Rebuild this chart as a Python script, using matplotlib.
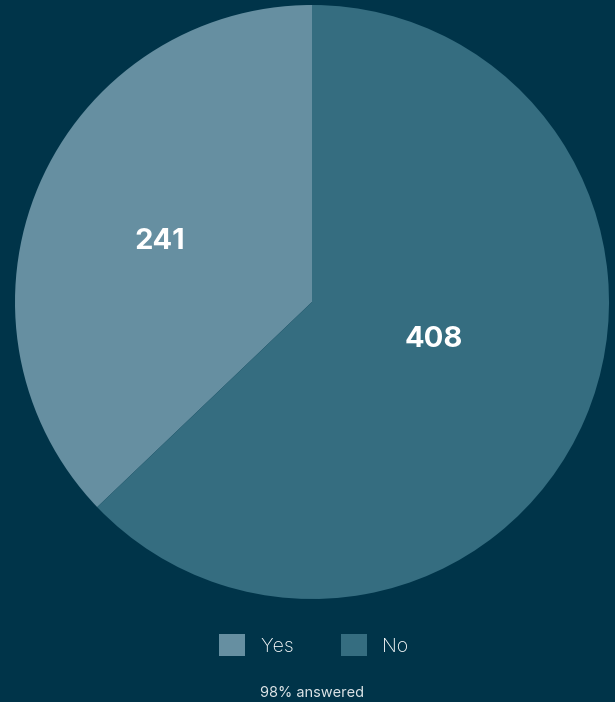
import numpy as np
import matplotlib.pyplot as plt

labels = ['Yes', 'No']
counts = [241, 408]
colors = ['#668fa1', '#356d80']
bg = '#003449'
footer = '98% answered'

plt.rcParams['font.family'] = ['Inter', 'DejaVu Sans']

fig = plt.figure(figsize=(6.15, 7.02), dpi=100, facecolor=bg)
ax = fig.add_axes([15 / 615, 103 / 702, 594 / 615, 594 / 702])
ax.set_facecolor(bg)

total = sum(counts)
wedges, texts, autotexts = ax.pie(
    counts, colors=colors, startangle=90, counterclock=True,
    radius=1.0, autopct=lambda p: '%d' % round(p * total / 100),
    pctdistance=0.55, wedgeprops={'linewidth': 0},
    textprops={'color': 'white', 'fontsize': 21, 'fontweight': 'bold'})

# nudge value labels toward where the original places them
label_dist = [0.55, 0.43]
label_shift = [1.5, 6.0]  # degrees
for w, t, d, s in zip(wedges, autotexts, label_dist, label_shift):
    ang = np.deg2rad((w.theta1 + w.theta2) / 2 + s)
    t.set_position((d * np.cos(ang), d * np.sin(ang)))

ax.set_xlim(-1, 1)
ax.set_ylim(-1, 1)
ax.set_aspect('equal')
ax.axis('off')

leg = fig.legend(wedges, labels, loc='center', bbox_to_anchor=(0.51, 0.081), ncol=2,
                 frameon=False, fontsize=14, labelcolor='white',
                 handlelength=1.34, handleheight=1.4, handletextpad=0.8,
                 columnspacing=2.4)
for t in leg.get_texts():
    t.set_fontweight('light')

fig.text(0.508, 1 - 693 / 702, footer, ha='center', va='center',
         fontsize=10.5, color='#dde4e7')

fig.savefig('out.png', dpi=100, facecolor=bg)
